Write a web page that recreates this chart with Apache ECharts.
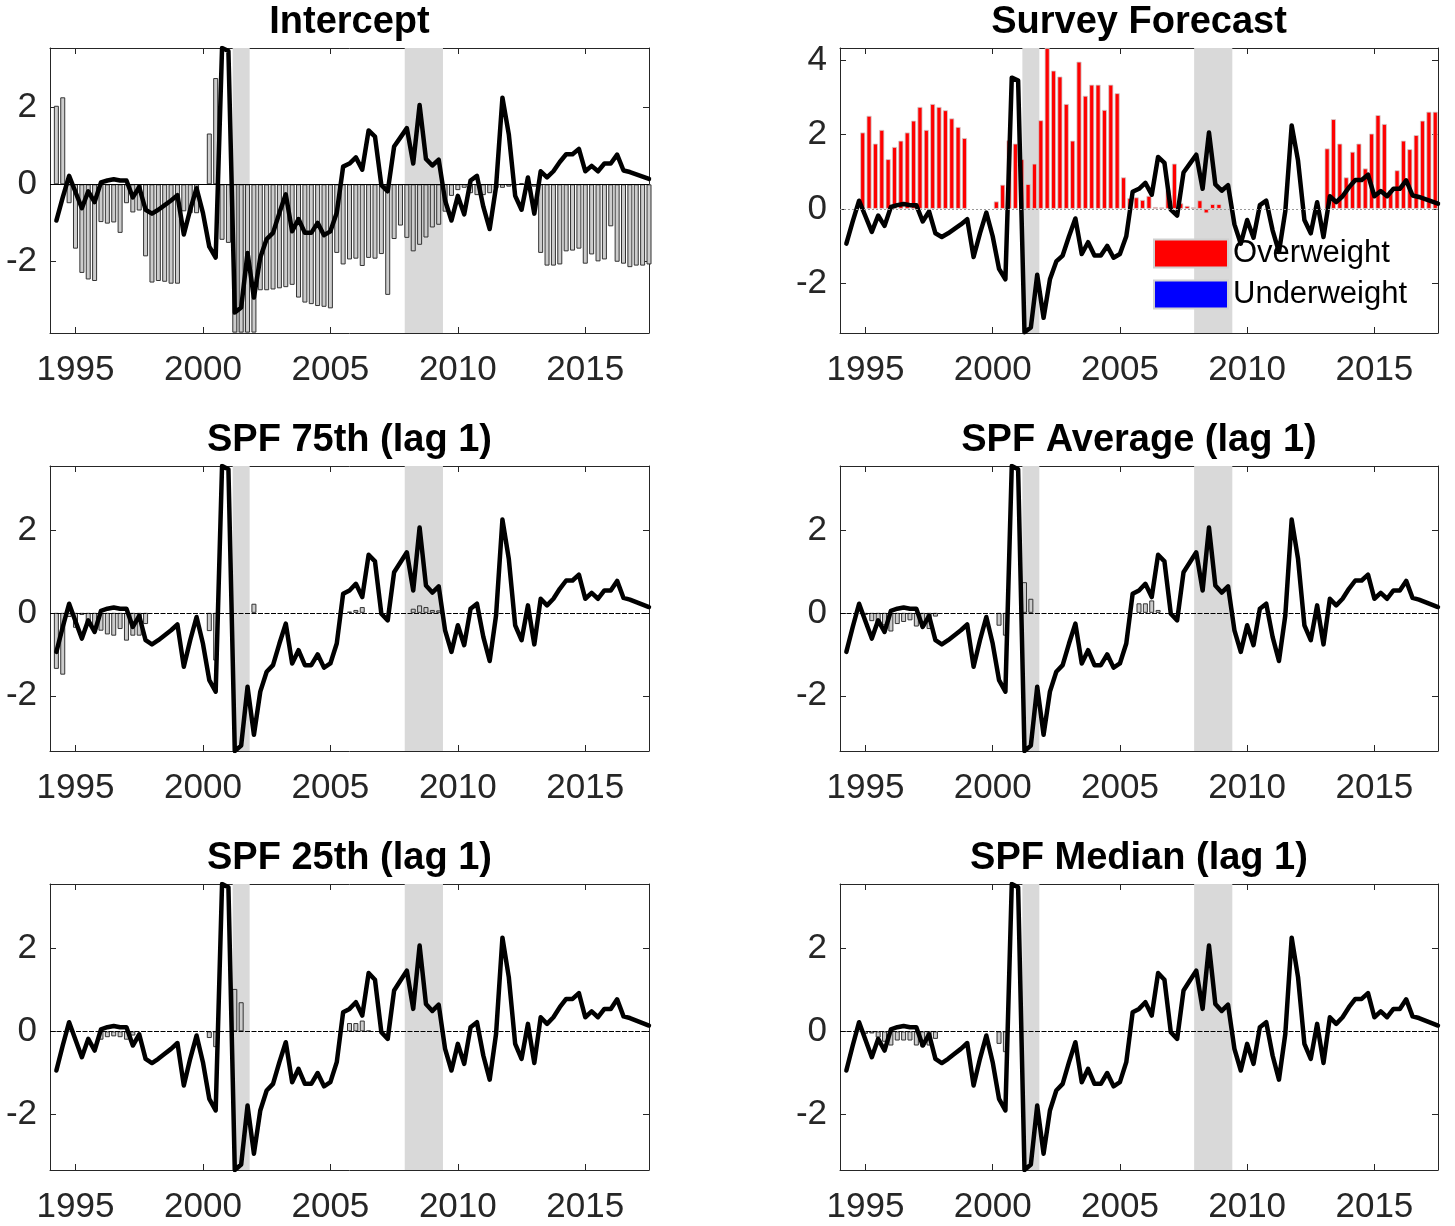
<!DOCTYPE html>
<html><head><meta charset="utf-8">
<script src="https://cdn.jsdelivr.net/npm/echarts@6/dist/echarts.min.js"></script>
<style>html,body{margin:0;padding:0;background:#fff}#c{width:1455px;height:1226px}</style>
</head><body><div id="c"></div>
<script>
// Quarterly dates (decimal years)
const dates = [
 1994.25,1994.5,1994.75,
 1995,1995.25,1995.5,1995.75, 1996,1996.25,1996.5,1996.75, 1997,1997.25,1997.5,1997.75,
 1998,1998.25,1998.5,1998.75, 1999,1999.25,1999.5,1999.75, 2000,2000.25,2000.5,2000.75,
 2001,2001.25,2001.5,2001.75, 2002,2002.25,2002.5,2002.75, 2003,2003.25,2003.5,2003.75,
 2004,2004.25,2004.5,2004.75, 2005,2005.25,2005.5,2005.75, 2006,2006.25,2006.5,2006.75,
 2007,2007.25,2007.5,2007.75, 2008,2008.25,2008.5,2008.75, 2009,2009.25,2009.5,2009.75,
 2010,2010.25,2010.5,2010.75, 2011,2011.25,2011.5,2011.75, 2012,2012.25,2012.5,2012.75,
 2013,2013.25,2013.5,2013.75, 2014,2014.25,2014.5,2014.75, 2015,2015.25,2015.5,2015.75,
 2016,2016.25,2016.5,2016.75, 2017,2017.25,2017.5
];
// Black line (same in every panel)
const lineValues = [
 -0.94,-0.34,0.22,-0.2,-0.62,-0.18,-0.46,0.05,0.1,0.13,
 0.1,0.1,-0.34,-0.07,-0.66,-0.76,-0.66,-0.54,-0.42,-0.28,
 -1.3,-0.66,-0.1,-0.74,-1.62,-1.9,3.54,3.46,-3.33,-3.2,
 -1.78,-2.94,-1.9,-1.42,-1.26,-0.74,-0.26,-1.22,-0.9,-1.26,
 -1.26,-1.0,-1.32,-1.22,-0.74,0.46,0.54,0.7,0.38,1.4,
 1.24,-0.02,-0.18,0.98,1.22,1.46,0.54,2.06,0.66,0.49,
 0.64,-0.42,-0.94,-0.3,-0.78,0.1,0.22,-0.58,-1.16,-0.06,
 2.25,1.3,-0.3,-0.66,0.18,-0.76,0.34,0.18,0.34,0.58,
 0.78,0.78,0.92,0.34,0.48,0.34,0.54,0.54,0.77,0.36,
 0.32,0.26,0.2,0.14
];
const interceptBars = [
 2.04,2.26,-0.49,-1.67,-2.3,-2.47,-2.51,-0.98,-1.02,-0.99,
 -1.26,-0.49,-0.73,-0.68,-1.87,-2.55,-2.51,-2.53,-2.58,-2.58,
 -0.7,-0.75,-0.75,0,1.32,2.76,-1.44,-1.52,-3.85,-3.85,
 -3.85,-3.85,-2.75,-2.75,-2.73,-2.7,-2.67,-2.61,-2.94,-3.07,
 -3.11,-3.16,-3.18,-3.22,-1.78,-2.08,-1.95,-1.93,-2.12,-1.91,
 -1.93,-1.81,-2.87,-1.42,-1.07,-1.39,-1.74,-1.57,-1.38,-1.12,
 -1.05,-0.71,-0.3,-0.15,-0.09,-0.23,-0.28,-0.28,-0.23,-0.1,
 -0.09,-0.06,-0.02,0.03,-0.02,-0.06,-1.78,-2.11,-2.11,-2.08,
 -1.74,-1.72,-1.67,-2.06,-1.82,-2.0,-1.95,-1.09,-2.01,-2.06,
 -2.15,-2.11,-2.11,-2.08
];
const surveyOverweight = [
 0,0,0,2.06,2.51,1.76,2.13,1.34,1.67,1.84,
 2.06,2.38,2.75,2.13,2.83,2.75,2.66,2.44,2.21,1.91,
 0,0,0,0,0.2,0.65,1.85,1.76,1.34,0.67,
 1.22,2.39,4.34,3.73,3.57,2.83,1.84,3.97,3.05,3.35,
 3.35,2.67,3.35,3.12,0.85,0.29,0.31,0.24,0.35,0.05,
 0.04,0.51,1.22,0.15,0.08,0.04,0.23,-0.12,0.13,0.13,
 0,0,0,0,0,0,0,0,0,0,
 0,0,0,0,0,0,1.63,2.42,1.76,0.85,
 1.54,1.76,1.09,2.03,2.53,2.29,0.5,1.04,1.84,1.61,
 1.99,2.38,2.62,2.62
];
const surveyUnderweight = [];
const spf75Bars = [
 -1.35,-1.49,-0.1,-0.36,-0.05,-0.3,-0.35,-0.43,-0.52,-0.55,
 -0.39,-0.67,-0.55,-0.55,-0.27,0,0,0,0,0,
 0,0,0,0,-0.44,-1.15,0,0,0,0,
 0,0.22,0,0,0,0,0,0,0,0,
 0,0,0,0,0,0,0.03,0.07,0.14,0,
 0,0,0,0,0,0,0.1,0.18,0.14,0.07,
 0.06,0,0,0,0,0,0,0,0,0,
 0,0,0,0,0,0,0,0,0,0,
 0,0,0,0,0,0,0,0,0,0,
 0,0,0,0
];
const spfAvgBars = [
 0,0,0,-0.05,-0.2,-0.3,-0.3,-0.45,-0.27,-0.22,
 -0.18,-0.33,-0.35,-0.39,-0.09,0,0,0,0,0,
 0,0,0,0,-0.31,-0.55,0,0,0.74,0.34,
 0,0,0,0,0,0,0,0,0,0,
 0,0,0,0,0,0,0.23,0.23,0.3,0.07,
 0,0,0,0,0,0,0,0,0,0,
 0,0,0,0,0,0,0,0,0,0,
 0,0,0,0,0,0,0,0,0,0,
 0,0,0,0,0,0,0,0,0,0,
 0,0,0,0
];
const spf25Bars = [
 0,0,0,0,0,0,0,-0.2,-0.14,-0.12,
 -0.14,-0.2,-0.1,0,0,0,0,0,0,0,
 0,0,0,0,-0.16,-0.38,0,0,1.02,0.7,
 0,0,0,0,0,0,0,0,0,0,
 0,0,0,0,0,0,0.2,0.2,0.26,0.02,
 0,0,0,0,0,0,0,0,0,0,
 0,0,0,0,0,0,0,0,0,0,
 0,0,0,0,0,0,0,0,0,0,
 0,0,0,0,0,0,0,0,0,0,
 0,0,0,0
];
const spfMedianBars = [
 0,0,0,-0.06,-0.05,-0.15,-0.25,-0.34,-0.22,-0.22,
 -0.22,-0.34,-0.37,-0.34,-0.18,0,0,0,0,0,
 0,0,0,0,-0.3,-0.5,0,0,0,0,
 0,0,0,0,0,0,0,0,0,0,
 0,0,0,0,0,0,0,0,0,0,
 0,0,0,0,0,0,0,0,0,0,
 0,0,0,0,0,0,0,0,0,0,
 0,0,0,0,0,0,0,0,0,0,
 0,0,0,0,0,0,0,0,0,0,
 0,0,0,0
];
const recessions = [[2001.1667, 2001.8333], [2007.9167, 2009.4167]];
const xTickLabels = [1995, 2000, 2005, 2010, 2015];
const titles = ['Intercept','Survey Forecast','SPF 75th (lag 1)','SPF Average (lag 1)','SPF 25th (lag 1)','SPF Median (lag 1)'];
const legendNames = ['Overweight','Underweight'];

const FONT = 'Liberation Sans';
const AX = '#262626';
const colLeft = [50, 840], colWidth = [599, 598];
const rowTop = [48, 466, 884], rowHeight = [285, 285, 286];

const panels = [
  {bars: interceptBars, kind:'gray', ymin:-3.86, ymax:3.54, yTicks:[-2,0,2], zero:{color:'#000', type:'solid'}},
  {bars: surveyOverweight, kind:'red', ymin:-3.35, ymax:4.34, yTicks:[-2,0,2,4], zero:{color:'#999', type:[2,2]}},
  {bars: spf75Bars, kind:'gray', ymin:-3.33, ymax:3.54, yTicks:[-2,0,2], zero:{color:'#000', type:[5,1.5]}},
  {bars: spfAvgBars, kind:'gray', ymin:-3.33, ymax:3.54, yTicks:[-2,0,2], zero:{color:'#000', type:[5,1.5]}},
  {bars: spf25Bars, kind:'gray', ymin:-3.33, ymax:3.54, yTicks:[-2,0,2], zero:{color:'#000', type:[5,1.5]}},
  {bars: spfMedianBars, kind:'gray', ymin:-3.33, ymax:3.54, yTicks:[-2,0,2], zero:{color:'#000', type:[5,1.5]}}
];

const grid = [], xAxis = [], yAxis = [], series = [], title = [];
panels.forEach((p, i) => {
  const col = i % 2, row = Math.floor(i / 2);
  grid.push({left: colLeft[col], top: rowTop[row], width: colWidth[col], height: rowHeight[row], containLabel: false});
  title.push({
    text: titles[i], left: colLeft[col] + colWidth[col] / 2, top: rowTop[row] - 44, textAlign: 'center', padding: 0,
    textStyle: {fontFamily: FONT, fontWeight: 'bold', fontSize: 38, color: '#000'}
  });
  const axLine = {show: true, onZero: false, lineStyle: {color: AX, width: 1}};
  xAxis.push({
    type: 'value', gridIndex: i, position: 'bottom', min: 1994, max: 2017.5,
    axisLine: axLine, splitLine: {show: false},
    axisTick: {show: true, inside: true, length: 6, lineStyle: {color: AX}, customValues: xTickLabels},
    axisLabel: {show: true, margin: 20, fontFamily: FONT, fontSize: 35, color: AX, customValues: xTickLabels, formatter: v => String(v)}
  });
  xAxis.push({
    type: 'value', gridIndex: i, position: 'top', min: 1994, max: 2017.5,
    axisLine: axLine, splitLine: {show: false},
    axisTick: {show: true, inside: true, length: 6, lineStyle: {color: AX}, customValues: xTickLabels},
    axisLabel: {show: false}
  });
  yAxis.push({
    type: 'value', gridIndex: i, position: 'left', min: p.ymin, max: p.ymax,
    axisLine: axLine, splitLine: {show: false},
    axisTick: {show: true, inside: true, length: 6, lineStyle: {color: AX}, customValues: p.yTicks},
    axisLabel: {show: true, margin: 13, fontFamily: FONT, fontSize: 35, color: AX, customValues: p.yTicks, formatter: v => String(v)}
  });
  yAxis.push({
    type: 'value', gridIndex: i, position: 'right', min: p.ymin, max: p.ymax,
    axisLine: axLine, splitLine: {show: false},
    axisTick: {show: true, inside: true, length: 6, lineStyle: {color: AX}, customValues: p.yTicks},
    axisLabel: {show: false}
  });
  const xi = 2 * i, yi = 2 * i;
  const lineData = dates.map((d, k) => [d, lineValues[k]]);
  // recession shading
  series.push({
    type: 'line', xAxisIndex: xi, yAxisIndex: yi, data: lineData, showSymbol: false, silent: true, z: 0,
    lineStyle: {opacity: 0, width: 0},
    markArea: {silent: true, itemStyle: {color: '#d9d9d9'},
      data: recessions.map(r => [{xAxis: r[0]}, {xAxis: r[1]}])}
  });
  const barData = dates.map((d, k) => [d, p.bars[k]]).filter(v => v[1] !== 0);
  const isRed = p.kind === 'red';
  series.push({
    name: isRed ? legendNames[0] : undefined,
    type: 'bar', xAxisIndex: xi, yAxisIndex: yi, data: barData, barWidth: 5, z: 2, silent: true,
    itemStyle: isRed ? {color: '#ff0000', borderColor: '#d0d0d0', borderWidth: 0.8}
                     : {color: '#cccccc', borderColor: '#333333', borderWidth: 1},
    markLine: {silent: true, symbol: ['none', 'none'], label: {show: false},
      lineStyle: {color: p.zero.color, width: 1, type: p.zero.type}, data: [{yAxis: 0}]}
  });
  if (isRed) {
    series.push({
      name: legendNames[1], type: 'bar', xAxisIndex: xi, yAxisIndex: yi, data: surveyUnderweight, barWidth: 5,
      itemStyle: {color: '#0000ff', borderColor: '#d0d0d0', borderWidth: 0.8}
    });
  }
  series.push({
    type: 'line', xAxisIndex: xi, yAxisIndex: yi, data: lineData, showSymbol: false, silent: true, z: 3,
    lineStyle: {color: '#000', width: 4.5, join: 'round', cap: 'round'}
  });
});

const chart = echarts.init(document.getElementById('c'), null, {renderer: 'canvas'});
chart.setOption({
  animation: false,
  backgroundColor: '#fff',
  title, grid, xAxis, yAxis, series,
  legend: {
    data: legendNames.map(n => ({name: n, icon: 'rect'})), orient: 'vertical', left: 1153, top: 238,
    itemWidth: 74, itemHeight: 28, itemGap: 10,
    selectedMode: false, padding: 0,
    textStyle: {fontFamily: FONT, fontSize: 31, color: '#000'}
  }
});
</script>
</body></html>
